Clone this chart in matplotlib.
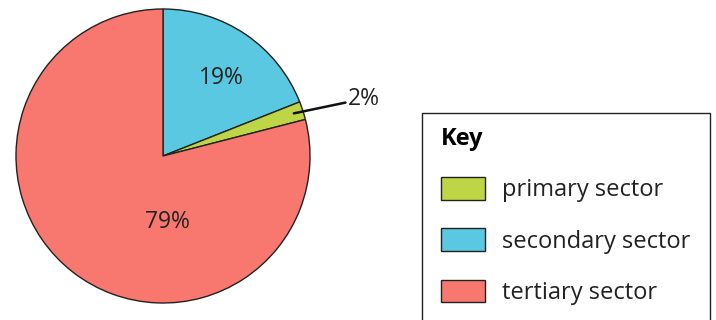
import matplotlib
matplotlib.use("Agg")
import matplotlib.pyplot as plt
from matplotlib.patches import Patch, Rectangle

plt.rcParams['font.family'] = ['Open Sans', 'DejaVu Sans']

# data
sectors = ["primary sector", "secondary sector", "tertiary sector"]
shares = [2, 19, 79]
colors = ["#BED646", "#59C8E0", "#F87870"]
pct_labels = ["2%", "19%", "79%"]

W, H = 716, 320
fig = plt.figure(figsize=(W / 100, H / 100), dpi=100)

# pie axes (center ~ (163,156) px, radius ~147 px)
cx, cy, r = 163, 156, 147
ax = fig.add_axes([(cx - r) / W, (H - cy - r) / H, 2 * r / W, 2 * r / H])
# order drawn clockwise from 12 o'clock: secondary, primary, tertiary
order = [1, 0, 2]
ax.pie([shares[i] for i in order], colors=[colors[i] for i in order],
       startangle=90, counterclock=False,
       wedgeprops=dict(edgecolor="#222222", linewidth=1.0))
ax.set_xlim(-1, 1)
ax.set_ylim(-1, 1)
ax.set_aspect("equal")
ax.axis("off")

fs = 16.5
ax.text(0.40, 0.53, pct_labels[1], ha="center", va="center", fontsize=fs, color="#222222")
ax.text(0.03, -0.45, pct_labels[2], ha="center", va="center", fontsize=fs, color="#222222")
ax.annotate(pct_labels[0], xy=(0.89, 0.29), xytext=(1.26, 0.39),
            ha="left", va="center", fontsize=fs, color="#222222",
            arrowprops=dict(arrowstyle="-", color="#111111", lw=1.8,
                            shrinkA=0, shrinkB=0),
            annotation_clip=False)

# key box
fig.patches.append(Rectangle((422 / W, -0.2), (710 - 422) / W, (H - 113) / H + 0.2,
                             transform=fig.transFigure, facecolor="white",
                             edgecolor="#222222", linewidth=1.0, zorder=0))
lfs = 17
handles = [Patch(facecolor=c, edgecolor="#222222", linewidth=1.0) for c in colors]
leg = fig.legend(handles, sectors, loc="upper left",
                 bbox_to_anchor=(441 / W, 1 - 127 / H),
                 frameon=False, fontsize=lfs, title="Key", alignment="left",
                 title_fontproperties=dict(weight="bold", size=lfs),
                 borderpad=0, borderaxespad=0,
                 handlelength=1.86, handleheight=1.1, handletextpad=0.72,
                 labelspacing=1.1)
for t in leg.get_texts():
    t.set_color("#222222")

fig.savefig("out.png", dpi=100)
